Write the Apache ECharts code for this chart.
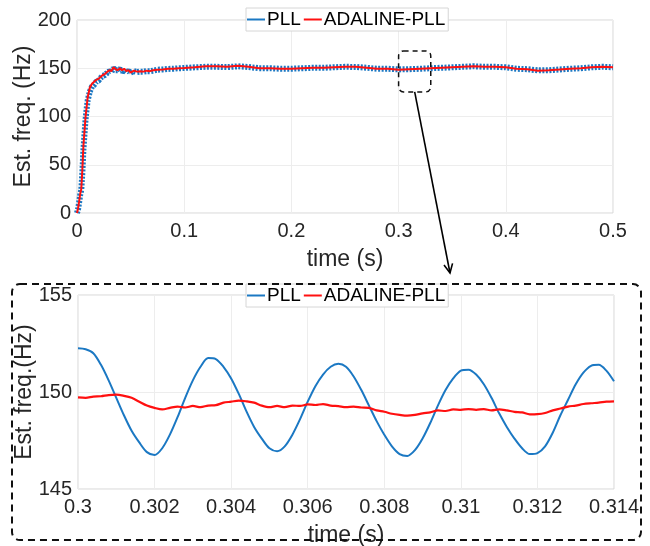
<!DOCTYPE html>
<html>
<head>
<meta charset="utf-8">
<script src="https://cdn.jsdelivr.net/npm/echarts@6/dist/echarts.min.js"></script>
<style>html,body{margin:0;padding:0;background:#fff}#c{width:650px;height:546px}</style>
</head>
<body>
<div id="c"></div>
<script>
// ---------- Top chart (0 - 0.5 s) ----------
const topTime = [0,0.001,0.002,0.003,0.004,0.005,0.006,0.007,0.008,0.009,0.010,0.012,0.014,0.016,0.018,0.020,0.022,0.024,0.026,0.028,0.030,0.032,0.034,0.036,0.038,0.040,0.042,0.044,0.046,0.048,0.050,0.053,0.056,0.059,0.062,0.065,0.068,0.071,0.075,0.080,0.085,0.090,0.095,0.100,0.11,0.12,0.13,0.14,0.15,0.16,0.17,0.18,0.19,0.20,0.21,0.22,0.23,0.24,0.25,0.26,0.27,0.28,0.29,0.30,0.31,0.32,0.33,0.34,0.35,0.36,0.37,0.38,0.39,0.40,0.41,0.42,0.43,0.44,0.45,0.46,0.47,0.48,0.49,0.50];
const topPLL = [0,4,11,19,24,42,66,82,97,108,117,126,131,133,136,137,140,142,143,145,147,146,150,148,148,149,147,148,146,147,145.5,147,146,146.5,146.5,147,147,147.5,148.5,148.8,149.3,149.5,150,150.3,151,151.5,151.5,151.2,152,151.3,150,150,149.5,149.5,150,150.5,150.5,151,151.5,151.3,150.5,149.5,149.5,148.8,149,149.5,150,150.5,151,151.5,152,151.5,151.5,151,149.5,149,147.8,148,148.7,149.5,150,151,151.5,151];
const topADALINE = [0,5,12,20,25,45,70,85,100,110,120,130,134,136,138,139,141,143,144,146,148,147,151,149,148,150,148,149.5,147,148,145.5,147.5,146.5,147,146.5,147.5,147,148,148.5,148.8,149.5,149.5,150,150.3,151,152,152,151.5,152.5,151.5,150,150,149.5,149.5,150,150.5,150.5,151,151.5,151.5,150.5,149.5,149.5,148.5,149,149.5,150,150.5,151,151.5,152,151.5,151.5,151,149.5,149,147.5,148,148.7,149.5,150,151,151.5,151];

// ---------- Zoomed chart (0.3 - 0.314 s) ----------
const zoomTime = [0.3000,0.3002,0.3004,0.3006,0.3008,0.3010,0.3012,0.3014,0.3016,0.3018,0.3020,0.3022,0.3024,0.3026,0.3028,0.3030,0.3032,0.3034,0.3036,0.3038,0.3040,0.3042,0.3044,0.3046,0.3048,0.3050,0.3052,0.3054,0.3056,0.3058,0.3060,0.3062,0.3064,0.3066,0.3068,0.3070,0.3072,0.3074,0.3076,0.3078,0.3080,0.3082,0.3084,0.3086,0.3088,0.3090,0.3092,0.3094,0.3096,0.3098,0.3100,0.3102,0.3104,0.3106,0.3108,0.3110,0.3112,0.3114,0.3116,0.3118,0.3120,0.3122,0.3124,0.3126,0.3128,0.3130,0.3132,0.3134,0.3136,0.3138,0.3140];
const zoomPLL = [152.25,152.2,152.0,151.4,150.6,149.7,148.8,148.0,147.4,146.9,146.75,147.1,147.8,148.7,149.7,150.6,151.3,151.75,151.7,151.3,150.7,149.9,149.0,148.2,147.6,147.1,146.95,147.2,147.8,148.6,149.5,150.3,150.9,151.3,151.45,151.3,150.8,150.1,149.3,148.5,147.8,147.2,146.8,146.7,147.0,147.6,148.4,149.3,150.1,150.7,151.1,151.15,150.9,150.4,149.7,148.9,148.2,147.6,147.1,146.8,146.85,147.2,147.9,148.8,149.6,150.4,151.0,151.35,151.4,151.1,150.55];
const zoomADALINE = [149.72,149.70,149.76,149.78,149.84,149.86,149.8,149.7,149.5,149.3,149.18,149.1,149.18,149.25,149.2,149.28,149.22,149.3,149.32,149.45,149.5,149.56,149.52,149.45,149.3,149.22,149.28,149.22,149.3,149.28,149.36,149.33,149.38,149.3,149.27,149.22,149.25,149.2,149.18,149.05,148.98,148.88,148.82,148.78,148.82,148.9,148.95,149.05,149.02,149.1,149.08,149.12,149.08,149.12,149.05,149.1,149.05,148.98,148.95,148.85,148.86,148.92,149.05,149.15,149.25,149.3,149.38,149.42,149.45,149.5,149.52];

const seriesNames = ['PLL', 'ADALINE-PLL'];
const topYTicks = {min: 0, max: 200, interval: 50};
const topXTicks = {min: 0, max: 0.5, interval: 0.1};
const zoomYTicks = {min: 145, max: 155, interval: 5};
const zoomXTicks = {min: 0.3, max: 0.314, interval: 0.002};
const zoomWindow = {t0: 0.3, t1: 0.33, f0: 125.5, f1: 168};

const BLUE = '#1b78c3', RED = '#ff1010';
const FONT = 'Liberation Sans, Arial, Helvetica, sans-serif';
const TXT = '#262626';
const pair = (t, v) => t.map((x, i) => [x, v[i]]);

function xAxisCfg(grid, ticks, fmt) {
  return {
    type: 'value', gridIndex: grid, min: ticks.min, max: ticks.max, interval: ticks.interval,
    name: 'time (s)', nameLocation: 'middle', nameGap: 35, nameMoveOverlap: false,
    nameTextStyle: {fontFamily: FONT, fontSize: 23, color: TXT},
    axisLine: {show: false}, axisTick: {show: false},
    axisLabel: {fontFamily: FONT, fontSize: 20, color: TXT, margin: 8, formatter: fmt},
    splitLine: {show: true, lineStyle: {color: '#ededed', width: 1}}
  };
}
function yAxisCfg(grid, ticks, name) {
  return {
    type: 'value', gridIndex: grid, min: ticks.min, max: ticks.max, interval: ticks.interval,
    name: name, nameLocation: 'middle', nameGap: 42, nameRotate: 90, nameMoveOverlap: false,
    nameTextStyle: {fontFamily: FONT, fontSize: 23, color: TXT},
    axisLine: {show: false}, axisTick: {show: false},
    axisLabel: {fontFamily: FONT, fontSize: 20, color: TXT, margin: 6},
    splitLine: {show: true, lineStyle: {color: '#ededed', width: 1}}
  };
}
function legendCfg(top) {
  return {
    top: top, left: 246, data: seriesNames, icon: 'rect', itemWidth: 18, itemHeight: 2,
    itemGap: 3, padding: [2, 3, 2, 1], borderColor: '#d6d6d6', borderWidth: 1,
    backgroundColor: '#ffffff', selectedMode: false,
    textStyle: {fontFamily: FONT, fontSize: 19, color: '#000', padding: [0, 0, 0, -3]}
  };
}

const chart = echarts.init(document.getElementById('c'), null, {renderer: 'canvas'});
chart.setOption({
  animation: false,
  backgroundColor: '#ffffff',
  grid: [
    {left: 77, top: 20, width: 536, height: 193, show: true, borderColor: '#d6d6d6', borderWidth: 1, backgroundColor: 'transparent', containLabel: false, outerBoundsMode: 'none'},
    {left: 78, top: 295, width: 536, height: 194, show: true, borderColor: '#d6d6d6', borderWidth: 1, backgroundColor: 'transparent', containLabel: false, outerBoundsMode: 'none'}
  ],
  xAxis: [
    xAxisCfg(0, topXTicks, v => String(+v.toFixed(1))),
    xAxisCfg(1, zoomXTicks, v => String(+v.toFixed(3)))
  ],
  yAxis: [
    yAxisCfg(0, topYTicks, 'Est. freq. (Hz)'),
    yAxisCfg(1, zoomYTicks, 'Est. freq.(Hz)')
  ],
  legend: [legendCfg(8), legendCfg(284)],
  series: [
    {name: seriesNames[0], type: 'line', xAxisIndex: 0, yAxisIndex: 0, data: pair(topTime, topPLL), symbol: 'none', color: BLUE, lineStyle: {width: 6, color: BLUE, type: [2, 1.5]}, z: 2},
    {name: seriesNames[1], type: 'line', xAxisIndex: 0, yAxisIndex: 0, data: pair(topTime, topADALINE), symbol: 'none', color: RED, lineStyle: {width: 2, color: RED}, z: 3},
    {name: seriesNames[0], type: 'line', xAxisIndex: 1, yAxisIndex: 1, data: pair(zoomTime, zoomPLL), symbol: 'none', smooth: 0.3, color: BLUE, lineStyle: {width: 2, color: BLUE}, z: 2},
    {name: seriesNames[1], type: 'line', xAxisIndex: 1, yAxisIndex: 1, data: pair(zoomTime, zoomADALINE), symbol: 'none', smooth: 0.3, color: RED, lineStyle: {width: 2.2, color: RED}, z: 3}
  ]
});

// annotation: zoom window, arrow and dashed frame
const p0 = chart.convertToPixel({gridIndex: 0}, [zoomWindow.t0, zoomWindow.f1]);
const p1 = chart.convertToPixel({gridIndex: 0}, [zoomWindow.t1, zoomWindow.f0]);
const ax = p0[0] + (p1[0] - p0[0]) * 0.5, ay = p1[1];
const tipX = 450, tipY = 273;
const ang = Math.atan2(tipY - ay, tipX - ax);
const hl = 10, ha = 0.45;
chart.setOption({
  graphic: [
    {type: 'rect', z: 100, shape: {x: p0[0], y: p0[1], width: p1[0] - p0[0], height: p1[1] - p0[1], r: 5},
     style: {fill: 'none', stroke: '#111', lineWidth: 1.5, lineDash: [5, 4]}},
    {type: 'line', z: 100, shape: {x1: ax, y1: ay, x2: tipX, y2: tipY}, style: {stroke: '#000', lineWidth: 1.6}},
    {type: 'polyline', z: 100, shape: {points: [
      [tipX - hl * Math.cos(ang - ha), tipY - hl * Math.sin(ang - ha)], [tipX, tipY],
      [tipX - hl * Math.cos(ang + ha), tipY - hl * Math.sin(ang + ha)]]},
     style: {stroke: '#000', lineWidth: 1.6, fill: 'none'}},
    {type: 'rect', z: 100, shape: {x: 12, y: 284, width: 629, height: 256, r: 8},
     style: {fill: 'none', stroke: '#111', lineWidth: 2, lineDash: [7, 5]}}
  ]
});
</script>
</body>
</html>
